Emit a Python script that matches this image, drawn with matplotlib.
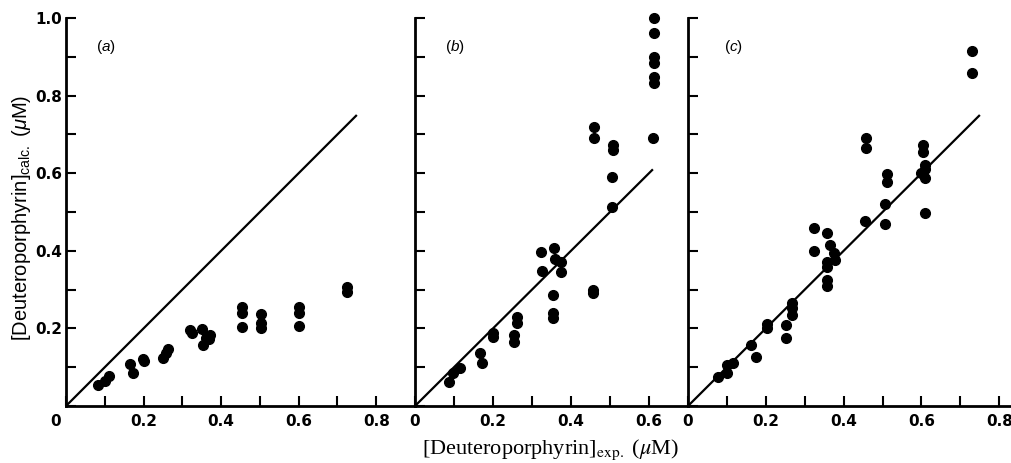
import matplotlib.pyplot as plt

# 패널별 데이터 (exp, calc)
a_exp = [0.083, 0.100, 0.112, 0.164, 0.174, 0.198, 0.200, 0.250, 0.258, 0.264,
         0.320, 0.325, 0.350, 0.353, 0.360, 0.372, 0.370, 0.454, 0.454, 0.454,
         0.504, 0.504, 0.504, 0.602, 0.602, 0.602, 0.725, 0.725]
a_calc = [0.054, 0.065, 0.077, 0.108, 0.084, 0.120, 0.115, 0.123, 0.136, 0.146,
          0.196, 0.188, 0.198, 0.157, 0.176, 0.183, 0.172, 0.256, 0.240, 0.204,
          0.237, 0.213, 0.200, 0.256, 0.240, 0.205, 0.306, 0.295]

b_exp = [0.086, 0.097, 0.116, 0.166, 0.172, 0.200, 0.200, 0.255, 0.255, 0.262,
         0.262, 0.322, 0.326, 0.357, 0.358, 0.374, 0.375, 0.355, 0.355, 0.355,
         0.457, 0.457, 0.505, 0.613, 0.613, 0.613, 0.613, 0.613, 0.613, 0.610,
         0.458, 0.458, 0.507, 0.507, 0.504]
b_calc = [0.063, 0.084, 0.097, 0.137, 0.110, 0.187, 0.177, 0.183, 0.166, 0.229,
          0.215, 0.396, 0.349, 0.406, 0.380, 0.372, 0.346, 0.286, 0.239, 0.227,
          0.299, 0.290, 0.514, 0.999, 0.962, 0.899, 0.883, 0.849, 0.832, 0.692,
          0.720, 0.692, 0.673, 0.660, 0.589]

c_exp = [0.078, 0.099, 0.099, 0.116, 0.161, 0.174, 0.202, 0.202, 0.251, 0.251,
         0.266, 0.266, 0.266, 0.323, 0.323, 0.356, 0.364, 0.375, 0.377, 0.356,
         0.356, 0.358, 0.358, 0.456, 0.507, 0.507, 0.610, 0.730, 0.730, 0.458,
         0.458, 0.511, 0.511, 0.605, 0.605, 0.610, 0.610, 0.599, 0.610]
c_calc = [0.074, 0.086, 0.106, 0.112, 0.157, 0.127, 0.211, 0.200, 0.209, 0.174,
          0.265, 0.252, 0.235, 0.458, 0.400, 0.445, 0.415, 0.395, 0.376, 0.372,
          0.359, 0.326, 0.309, 0.478, 0.469, 0.521, 0.498, 0.916, 0.859, 0.690,
          0.664, 0.598, 0.578, 0.673, 0.655, 0.621, 0.610, 0.600, 0.587]

# 기준선 끝점
a_line = [0, 0.75]
b_line = [0, 0.61]
c_line = [0, 0.75]

panel_labels = ['a', 'b', 'c']
x_limits = [0.9, 0.7, 0.83]
x_tick_max = [0.8, 0.6, 0.8]

fig = plt.figure(figsize=(10.11, 4.63), dpi=100)
plt.rcParams['mathtext.fontset'] = 'custom'
plt.rcParams['mathtext.rm'] = 'Liberation Sans'
plt.rcParams['mathtext.it'] = 'Liberation Sans:italic'

W, H = 1011, 463
boxes = [(66, 415), (415, 688), (688, 1011)]
bottom, top = 406, 18

data = [(a_exp, a_calc, a_line), (b_exp, b_calc, b_line), (c_exp, c_calc, c_line)]

for i, ((x0, x1), (xs, ys, ln)) in enumerate(zip(boxes, data)):
    ax = fig.add_axes([x0 / W, 1 - bottom / H, (x1 - x0) / W, (bottom - top) / H])
    ax.plot(ln, ln, color='k', lw=1.6, solid_capstyle='butt')
    ax.plot(xs, ys, 'o', color='k', ms=7, clip_on=False)
    ax.set_xlim(0, x_limits[i])
    ax.set_ylim(0, 1.0)
    for s in ['top', 'right']:
        ax.spines[s].set_visible(False)
    for s in ['left', 'bottom']:
        ax.spines[s].set_linewidth(2)

    n = int(round(x_tick_max[i] * 10))
    xt = [k / 10 for k in range(0, n + 1)]
    ax.set_xticks(xt)
    xl = [('0' if k == 0 else '%.1f' % (k / 10)) if k % 2 == 0 else '' for k in range(0, n + 1)]
    if i == 0:
        xl[0] = ''
    ax.set_xticklabels(xl)

    yt = [k / 10 for k in range(0, 11)]
    ax.set_yticks(yt)
    if i == 0:
        ax.set_yticklabels(['' if (k % 2 or k == 0) else '%.1f' % (k / 10) for k in range(0, 11)])
        ax.text(-0.026, -0.039, '0', ha='center', va='center', fontsize=11,
                fontweight='bold', family='DejaVu Sans', clip_on=False)
    else:
        ax.set_yticklabels([])

    ax.tick_params(axis='both', direction='in', length=7, width=1.5,
                   labelsize=11)
    ax.tick_params(axis='x', pad=6)
    ax.tick_params(axis='y', pad=3)
    for lab in ax.get_xticklabels() + ax.get_yticklabels():
        lab.set_fontweight('bold')
        lab.set_family('DejaVu Sans')
    ax.patch.set_alpha(0)

    ax.text(0.103 if i < 2 else 0.116, 0.925, '(' + r'$\mathit{' + panel_labels[i] + '}$' + ')',
            ha='center', va='center', fontsize=11, family='Liberation Sans')

fig.text(0.021, 0.53, r'[Deuteroporphyrin]$_{\mathrm{calc.}}$ ($\mu$M)',
         rotation=90, ha='center', va='center', fontsize=14.5, family='Liberation Sans',
         math_fontfamily='custom')
fig.text(0.545, 0.028, r'[Deuteroporphyrin]$_{\mathrm{exp.}}$ ($\mu$M)',
         ha='center', va='center', fontsize=16, family='Liberation Serif',
         math_fontfamily='stix')

plt.savefig('out.png', dpi=100)
